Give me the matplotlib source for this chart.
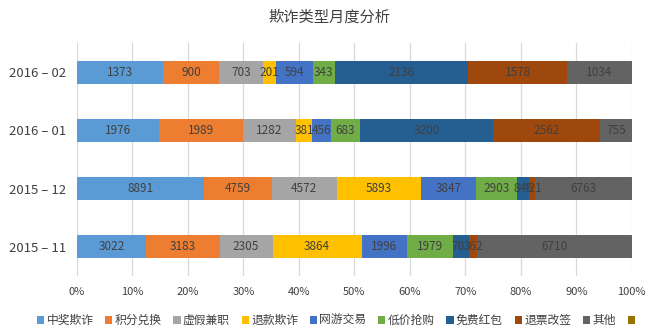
import matplotlib.pyplot as plt
from matplotlib.patches import Patch
import numpy as np

plt.rcParams['font.family'] = ['Noto Sans CJK SC', 'DejaVu Sans']

# monthly counts per fraud type, months listed bottom to top
months = ['2015 – 11', '2015 – 12', '2016 – 01', '2016 – 02']
types = ['中奖欺诈', '积分兑换', '虚假兼职', '退款欺诈', '网游交易',
         '低价抢购', '免费红包', '退票改签', '其他']
counts = {
    '中奖欺诈': [3022, 8891, 1976, 1373],
    '积分兑换': [3183, 4759, 1989, 900],
    '虚假兼职': [2305, 4572, 1282, 703],
    '退款欺诈': [3864, 5893, 381, 201],
    '网游交易': [1996, 3847, 456, 594],
    '低价抢购': [1979, 2903, 683, 343],
    '免费红包': [703, 845, 3200, 2136],
    '退票改签': [362, 421, 2562, 1578],
    '其他': [6710, 6763, 755, 1034],
}
colors = ['#5B9BD5', '#ED7D31', '#A5A5A5', '#FFC000', '#4472C4',
          '#70AD47', '#255E91', '#9E480E', '#636363', '#997300']

TEXT = '#404040'

fig = plt.figure(figsize=(6.52, 3.34), dpi=100)
ax = fig.add_axes([0.118, 0.174, 0.851, 0.697])

data = np.array([counts[t] for t in types], dtype=float)
totals = data.sum(axis=0)
shares = data / totals
y = np.arange(len(months))

left = np.zeros(len(months))
for i, t in enumerate(types):
    ax.barh(y, shares[i], left=left, height=0.4, color=colors[i],
            edgecolor='none', zorder=3)
    for j in range(len(months)):
        ax.text(left[j] + shares[i][j] / 2, y[j], f'{int(data[i][j])}',
                ha='center', va='center', fontsize=8.5, color=TEXT, zorder=4)
    left += shares[i]

ax.set_xlim(0, 1)
ax.set_ylim(-0.5, len(months) - 0.5)
ax.set_xticks(np.arange(0, 1.01, 0.1))
ax.set_xticklabels([f'{int(round(v * 100))}%' for v in np.arange(0, 1.01, 0.1)])
ax.set_yticks(y)
ax.set_yticklabels(months)
ax.tick_params(axis='both', length=0, labelsize=9.5, colors=TEXT)
ax.tick_params(axis='x', pad=8, labelsize=8)
ax.tick_params(axis='y', pad=8)
ax.grid(True, axis='x', color='#D9D9D9', linewidth=0.9, zorder=0)
for s in ax.spines.values():
    s.set_visible(False)

fig.suptitle('欺诈类型月度分析', x=0.505, y=0.975, fontsize=11, color=TEXT)

handles = [Patch(facecolor=c, edgecolor='none') for c in colors]
labels = types + ['']
fig.legend(handles, labels, loc='center', bbox_to_anchor=(0.517, 0.04),
           ncol=10, frameon=False, fontsize=8.5, handlelength=0.6,
           handleheight=0.6, handletextpad=0.2, columnspacing=1.0,
           labelcolor=TEXT)

fig.savefig('out.png', dpi=100)
